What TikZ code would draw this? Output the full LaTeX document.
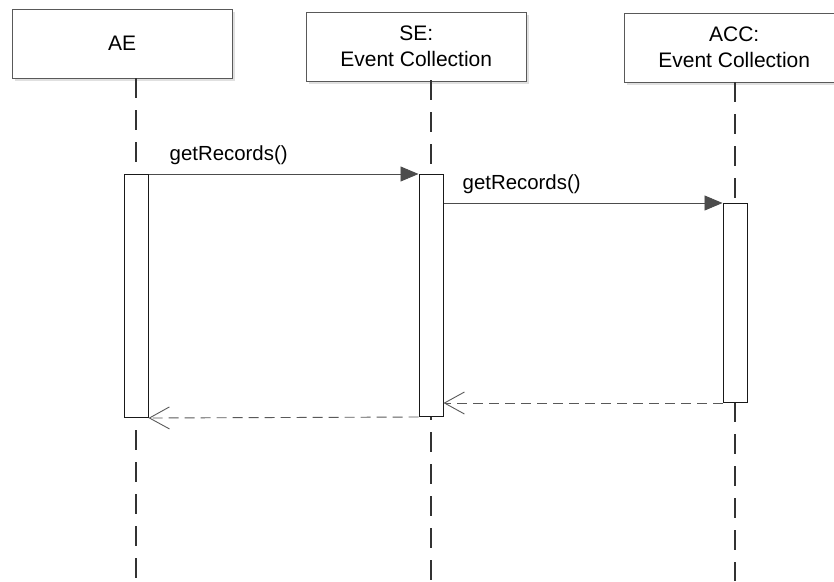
\documentclass[tikz,border=0pt]{standalone}
\usepackage{fontspec}
\setmainfont{Liberation Sans}
\usetikzlibrary{positioning,arrows.meta,shadows,calc}

\begin{document}
\begin{tikzpicture}[x=1pt,y=-1pt,
    object/.style={draw=black!65, fill=white, minimum width=220pt, minimum height=69pt, align=center, inner sep=0pt,
        font=\fontsize{21}{26}\selectfont,
        drop shadow={shadow xshift=3pt, shadow yshift=-3pt, fill=black!12, opacity=1}},
    lifeline/.style={draw=black!80, line width=1.7pt, dash pattern=on 20pt off 12pt},
    activation/.style={draw=black!90, fill=white, minimum width=24pt, inner sep=0pt, line width=1pt},
    call/.style={draw=black!70, line width=0.9pt, -{Triangle[length=18pt,width=15pt]}},
    reply/.style={draw=black!65, line width=0.9pt, dash pattern=on 10pt off 6pt, -{Straight Barb[length=20pt,width=22pt,line width=0.9pt]}},
    msg/.style={font=\fontsize{20.4}{24}\selectfont, inner sep=0pt}
]
    \useasboundingbox (0,0) rectangle (834,581);

    % Objects
    \node[object, anchor=north west] (ae) at (12,9) {AE};
    \node[object, anchor=north west] (se) at (306,12) {SE:\\Event Collection};
    \node[object, anchor=north west] (acc) at (624,13) {ACC:\\Event Collection};

    % Lifelines
    \coordinate (aeTop) at (136,78);
    \coordinate (seTop) at (431,80);
    \coordinate (accTop) at (735,82);
    \draw[lifeline] (aeTop) -- (aeTop |- 0,581);
    \draw[lifeline] (seTop) -- (seTop |- 0,581);
    \draw[lifeline] (accTop) -- (accTop |- 0,581);

    % Activations
    \node[activation, anchor=north, minimum height=243pt] (aeAct) at (aeTop |- 0,174) {};
    \node[activation, anchor=north, minimum height=242pt] (seAct) at (seTop |- 0,174) {};
    \node[activation, anchor=north, minimum height=199pt] (accAct) at (accTop |- 0,203) {};

    % Calls
    \draw[call] (aeAct.north east) -- (seAct.north west);
    \node[msg, anchor=base west] (call1) at ($(aeAct.north east)+(21,-14)$) {getRecords()};
    \draw[call] (seAct.east |- accAct.north) -- (accAct.north west);
    \node[msg, anchor=base west] (call2) at ($(seAct.east |- accAct.north)+(19,-14)$) {getRecords()};

    % Replies
    \draw[reply] (seAct.south west) -- (aeAct.south east);
    \draw[reply] (accAct.south west) -- (accAct.south west -| seAct.east);
\end{tikzpicture}
\end{document}
